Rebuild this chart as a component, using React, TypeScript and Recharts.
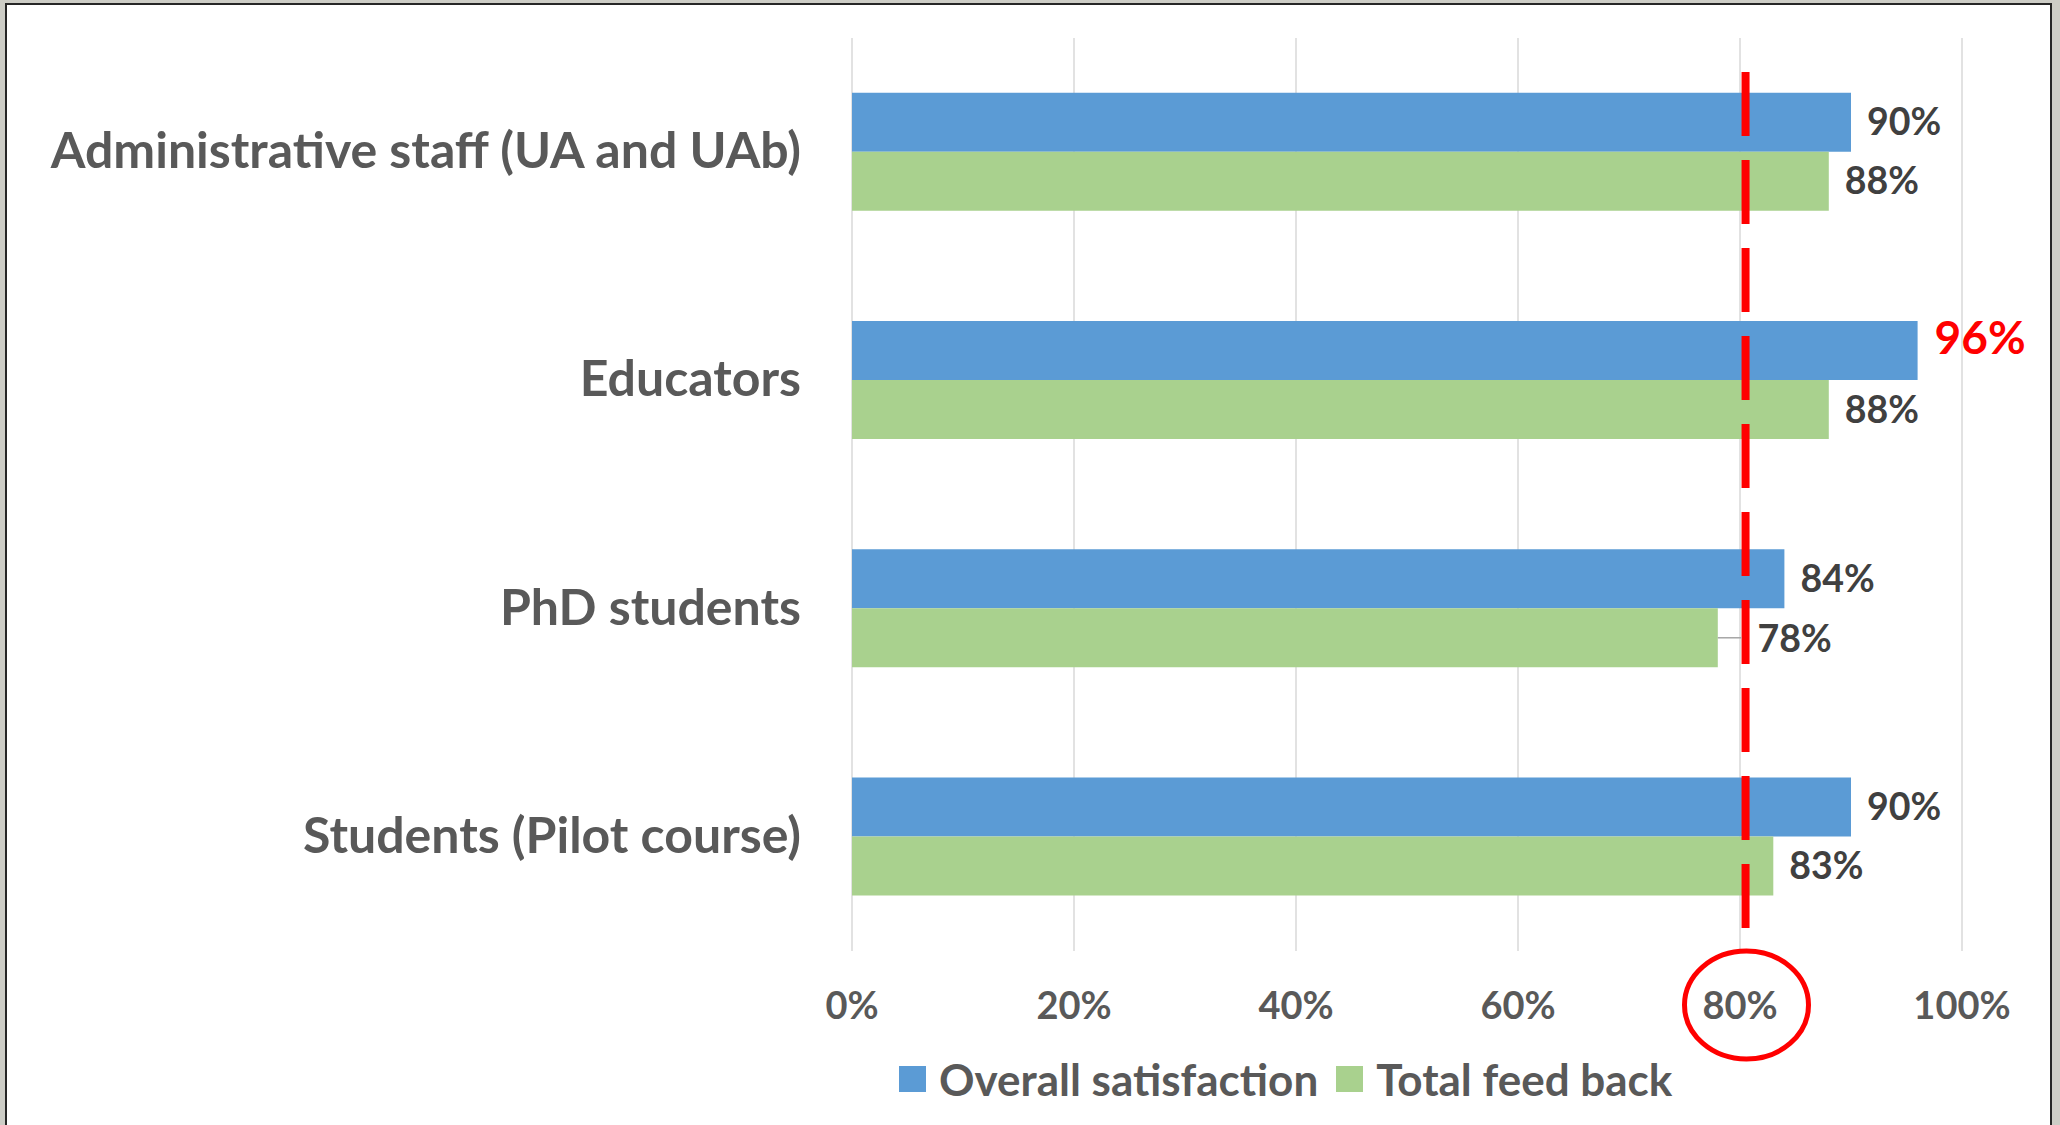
import React from 'react';
import { BarChart, Bar, XAxis, YAxis, CartesianGrid, ReferenceLine, LabelList, Legend } from 'recharts';

const categories = [
  'Administrative staff (UA and UAb)',
  'Educators',
  'PhD students',
  'Students (Pilot course)',
];
const overallSatisfaction = [90, 96, 84, 90];
const totalFeedback = [88, 88, 78, 83];
const seriesNames = ['Overall satisfaction', 'Total feed back'];
const xTicks = [0, 20, 40, 60, 80, 100];
const targetValue = 80.5;
const highlightedTick = 80;

const data = categories.map((c, i) => ({
  category: c,
  overall: overallSatisfaction[i],
  feedback: totalFeedback[i],
}));

const FONT = 'Lato, "Open Sans", sans-serif';
const BLUE = '#5B9BD5';
const GREEN = '#A9D18E';
const RED = '#FF0000';
const maxOverall = Math.max(...overallSatisfaction);

const YTick = (props: any) => {
  const { x, y, payload } = props;
  return (
    <text x={x} y={y} dy={16} textAnchor="end" fontFamily={FONT} fontWeight={700} fontSize={50} fill="#595959">
      {payload.value}
    </text>
  );
};

const XTick = (props: any) => {
  const { x, y, payload } = props;
  return (
    <g>
      <text x={x} y={y} dy={27} textAnchor="middle" fontFamily={FONT} fontWeight={700} fontSize={38} fill="#595959">
        {`${payload.value}%`}
      </text>
      {payload.value === highlightedTick && (
        <ellipse cx={x + 6.5} cy={y + 13} rx={62} ry={54} fill="none" stroke={RED} strokeWidth={5} />
      )}
    </g>
  );
};

const makeValueLabel = (highlightMax: boolean) => (props: any) => {
  const { x, y, width, height, value } = props;
  const end = x + width;
  const cy = y + height / 2;
  if (highlightMax && value === maxOverall) {
    return (
      <text x={end + 17} y={cy} dy={3} fontFamily={FONT} fontWeight={700} fontSize={46} fill={RED}>
        {`${value}%`}
      </text>
    );
  }
  const lineX = x + (targetValue * width) / value;
  if (value < targetValue && end + 60 > lineX) {
    return (
      <g>
        <line x1={end} y1={cy} x2={lineX - 4} y2={cy} stroke="#A6A6A6" strokeWidth={1.5} />
        <text x={lineX + 12} y={cy} dy={14} fontFamily={FONT} fontWeight={700} fontSize={37.5} fill="#404040">
          {`${value}%`}
        </text>
      </g>
    );
  }
  return (
    <text x={end + 16} y={cy} dy={13} fontFamily={FONT} fontWeight={700} fontSize={37.5} fill="#404040">
      {`${value}%`}
    </text>
  );
};

const DashedTarget = (props: any) => {
  const { x1, x2, y1, y2 } = props;
  const top = Math.min(y1, y2);
  const bottom = Math.max(y1, y2);
  return (
    <line x1={x1} x2={x2} y1={top + 34} y2={bottom - 23} stroke={RED} strokeWidth={8} strokeDasharray="64 24" />
  );
};

const renderLegend = (props: any) => {
  const { payload } = props;
  return (
    <div style={{ display: 'flex', alignItems: 'center', fontFamily: FONT, fontWeight: 700, fontSize: 44, lineHeight: 1, color: '#595959', whiteSpace: 'nowrap' }}>
      {(payload || []).map((entry: any, i: number) => (
        <div key={i} style={{ display: 'flex', alignItems: 'center', marginRight: 18 }}>
          <span style={{ display: 'inline-block', width: 27, height: 26, background: entry.color, marginRight: 13 }} />
          <span>{entry.value}</span>
        </div>
      ))}
    </div>
  );
};

export default function App() {
  return (
    <div style={{ position: 'absolute', left: 0, top: 0, width: 2060, height: 1125, overflow: 'hidden', background: '#cdcdc6' }}>
      <div style={{ position: 'absolute', left: 5, top: 3, width: 2047, height: 1200, boxSizing: 'border-box', border: '2px solid #262626', background: '#ffffff' }} />
      <div style={{ position: 'absolute', left: 0, top: 0 }}>
        <BarChart
          width={2060}
          height={1125}
          data={data}
          layout="vertical"
          margin={{ top: 38, right: 98, bottom: 114, left: 0 }}
          barCategoryGap="24%"
          barGap={0}
        >
          <CartesianGrid horizontal={false} stroke="#D9D9D9" strokeWidth={1.5} />
          <XAxis
            type="number"
            domain={[0, 100]}
            ticks={xTicks}
            axisLine={false}
            tickLine={false}
            tickSize={0}
            tickMargin={41}
            height={60}
            tick={<XTick />}
            interval={0}
          />
          <YAxis
            type="category"
            dataKey="category"
            width={852}
            axisLine={false}
            tickLine={false}
            tickSize={0}
            tickMargin={51}
            tick={<YTick />}
            interval={0}
          />
          <Bar dataKey="overall" name={seriesNames[0]} fill={BLUE} isAnimationActive={false}>
            <LabelList dataKey="overall" content={makeValueLabel(true)} />
          </Bar>
          <Bar dataKey="feedback" name={seriesNames[1]} fill={GREEN} isAnimationActive={false}>
            <LabelList dataKey="feedback" content={makeValueLabel(false)} />
          </Bar>
          <ReferenceLine x={targetValue} shape={<DashedTarget />} ifOverflow="visible" />
          <Legend
            layout="horizontal"
            verticalAlign="middle"
            align="center"
            wrapperStyle={{ top: 1057, left: 899, width: 1000, height: 44 }}
            content={renderLegend}
          />
        </BarChart>
      </div>
    </div>
  );
}
